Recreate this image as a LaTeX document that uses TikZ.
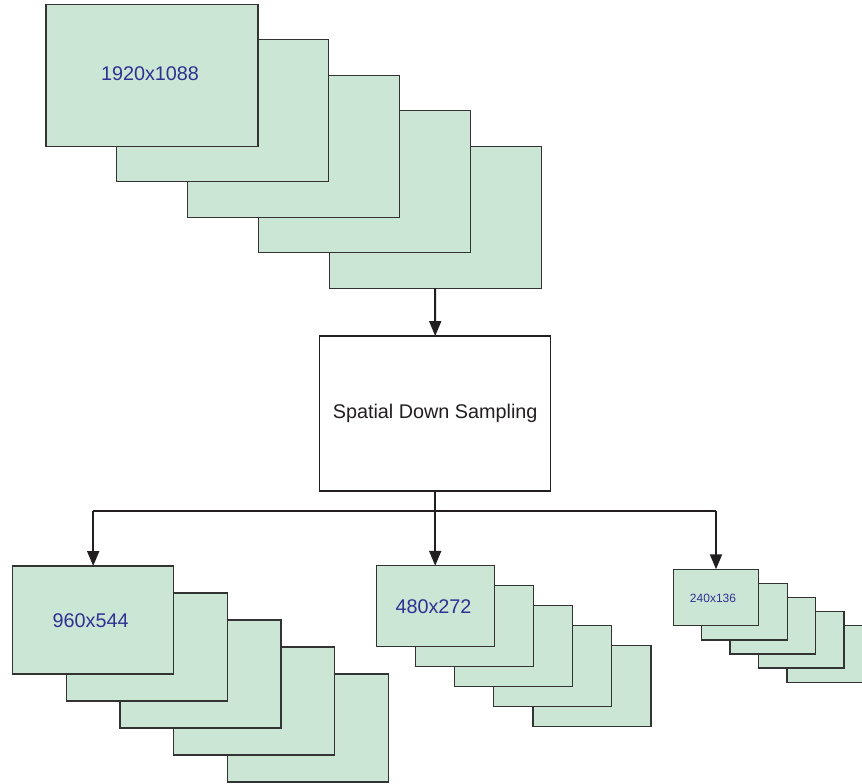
\documentclass[tikz,border=0pt]{standalone}
\usepackage{fontspec}
\setmainfont{Liberation Sans}
\usetikzlibrary{arrows.meta}
\definecolor{framefill}{RGB}{204,230,214}
\definecolor{frameline}{RGB}{51,51,51}
\definecolor{labelblue}{RGB}{46,49,146}
\definecolor{inkdark}{RGB}{35,31,32}
\tikzset{
  frame/.style={draw=frameline, fill=framefill, line width=1.3pt, inner sep=0pt, outer sep=0pt},
  bigframe/.style={frame, minimum width=212pt, minimum height=142pt},
  midframe/.style={frame, minimum width=161pt, minimum height=108pt},
  smallframe/.style={frame, minimum width=118pt, minimum height=80.5pt},
  tinyframe/.style={frame, minimum width=85.5pt, minimum height=56.5pt},
  bigtext/.style={text=labelblue, font=\fontsize{19.8}{24}\selectfont},
  tinytext/.style={text=labelblue, font=\fontsize{12}{14}\selectfont},
  procbox/.style={draw=inkdark, fill=white, line width=1.3pt, minimum width=231pt, minimum height=155pt, inner sep=0pt, outer sep=0pt, text=inkdark, font=\fontsize{19.8}{24}\selectfont},
  link/.style={draw=inkdark, line width=2pt},
  arr/.style={link, -{Triangle[length=15pt,width=12pt]}}
}
\begin{document}
\begin{tikzpicture}[x=1pt,y=-1pt]
\useasboundingbox (0,0) rectangle (862,784);
\clip (0,0) rectangle (862,784);
% top stack
\foreach \i in {4,3,2,1} {
  \node[bigframe] (t\i) at ({152+70.8*\i},{75.2+35.5*\i}) {};
}
\node[bigframe] (t0) at (152,75.2) {};
\node[bigtext] (t0lab) at (150,74) {1920x1088};
% process box
\node[procbox] (sds) at (435.2,413.5) {Spatial Down Sampling\hspace{7pt}};
% bottom-left stack
\foreach \i in {4,3,2,1} {
  \node[midframe] (a\i) at ({93.2+53.7*\i},{620+27*\i}) {};
}
\node[midframe] (a0) at (93.2,620) {};
\node[bigtext] (a0lab) at (90.7,620.5) {960x544};
% middle stack
\foreach \i in {4,3,2,1} {
  \node[smallframe] (b\i) at ({435.2+39.2*\i},{606+20*\i}) {};
}
\node[smallframe] (b0) at (435.2,606) {};
\node[bigtext] (b0lab) at (433.5,606.5) {480x272};
% right stack
\foreach \i in {4,3,2,1} {
  \node[tinyframe] (c\i) at ({716+28.4*\i},{597.5+14.1*\i}) {};
}
\node[tinyframe] (c0) at (716,597.5) {};
\node[tinytext] (c0lab) at (713,598) {240x136};
% connectors
\draw[arr] (t4.south) -- (sds.north);
\coordinate (split) at (sds.south |- 0,511);
\coordinate (lsplit) at (a0.north |- 0,511);
\coordinate (rsplit) at (c0.north |- 0,511);
\draw[link] (sds.south) -- (split);
\draw[link] (lsplit) -- (rsplit);
\draw[arr] (split) -- (b0.north);
\draw[arr] (lsplit) -- (a0.north);
\draw[arr] (rsplit) -- (c0.north);
\end{tikzpicture}
\end{document}
